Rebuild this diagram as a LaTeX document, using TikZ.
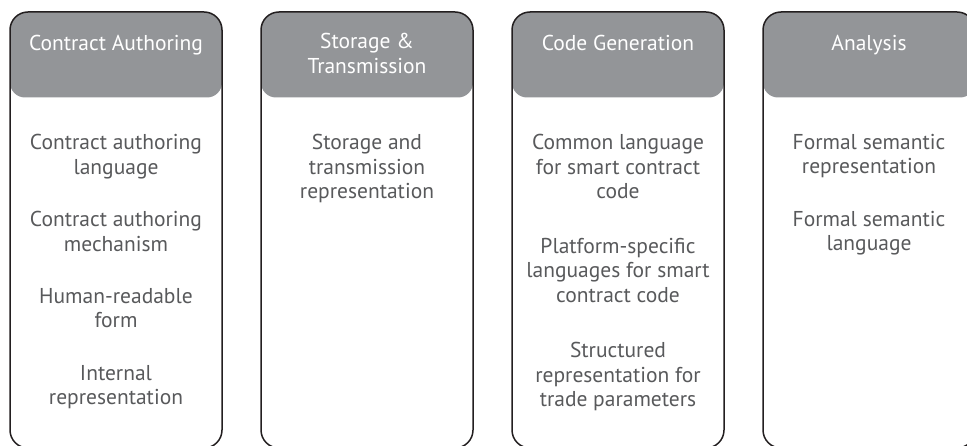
\documentclass[tikz,border=0pt]{standalone}
\usepackage{fontspec}
\setmainfont{PT Sans}
\definecolor{headgray}{HTML}{939598}
\definecolor{textgray}{HTML}{58595B}
\definecolor{linecol}{HTML}{231F20}
\begin{document}
\begin{tikzpicture}[x=1pt,y=-1pt,
  boxline/.style={draw=linecol, line width=1.5pt, rounded corners=18pt},
  headtext/.style={text=white, font=\fontsize{21.5}{24.5}\selectfont, align=center, anchor=north, inner sep=0pt, execute at begin node=\strut},
  itemtext/.style={text=textgray, font=\fontsize{21.5}{24.5}\selectfont, align=center, anchor=north, inner sep=0pt, execute at begin node=\strut}]
\useasboundingbox (0,0) rectangle (967,446);
\clip (0,0) rectangle (967,446);
\foreach \L in {10,261,512,763}{
  \begin{scope}
    \clip[rounded corners=18pt] (\L,12) rectangle (\L+212,448);
    \fill[headgray, rounded corners=15pt] (\L,8) rectangle (\L+212,97.5);
  \end{scope}
  \draw[boxline] (\L,12) rectangle (\L+212,448);
}
% column 1
\node[headtext] (h1) at (116,33) {Contract Authoring};
\node[itemtext] (a1) at (116,134) {Contract authoring\\language};
\node[itemtext] (a2) at (116,211) {Contract authoring\\mechanism};
\node[itemtext] (a3) at (116,288) {Human-readable\\form};
\node[itemtext] (a4) at (116,365) {Internal\\representation};
% column 2
\node[headtext] (h2) at (367,33) {Storage \&\\Transmission};
\node[itemtext] (b1) at (367,134) {Storage and\\transmission\\representation};
% column 3
\node[headtext] (h3) at (618,33) {Code Generation};
\node[itemtext] (c1) at (618,134) {Common language\\for smart contract\\code};
\node[itemtext] (c2) at (618,238) {Platform-specific\\languages for smart\\contract code};
\node[itemtext] (c3) at (618,342) {Structured\\representation for\\trade parameters};
% column 4
\node[headtext] (h4) at (869,33) {Analysis};
\node[itemtext] (d1) at (869,134) {Formal semantic\\representation};
\node[itemtext] (d2) at (869,211) {Formal semantic\\language};
\end{tikzpicture}
\end{document}
